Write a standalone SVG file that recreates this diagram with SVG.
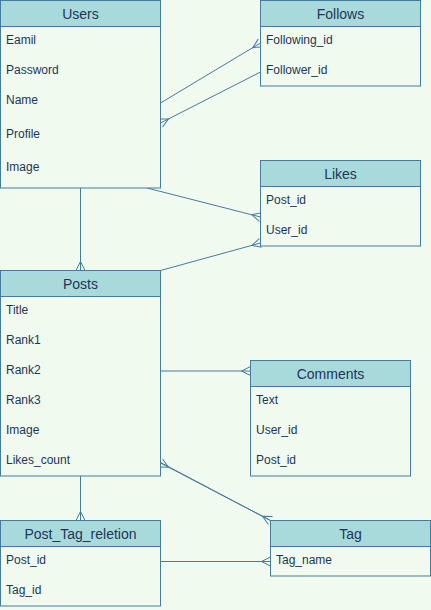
<svg xmlns="http://www.w3.org/2000/svg" width="431" height="610" viewBox="0 0 431 610">
<defs>
<style>
.box{fill:#F1FAEE;stroke:#457B9D;stroke-width:1}
.hdr{fill:#A8DADC;stroke:#457B9D;stroke-width:1}
.t{font-family:"Liberation Sans",Helvetica,Arial,sans-serif;fill:#1D3557}
.f{font-size:12px}
.h{font-size:14px;text-anchor:middle}
.c{fill:none;stroke:#457B9D;stroke-width:1}
</style>
<marker id="many" markerUnits="userSpaceOnUse" viewBox="-11 -6 12 12" refX="0" refY="0" markerWidth="12" markerHeight="12" orient="auto" overflow="visible">
<path d="M0,-4.5 L-9,0 L0,4.5" fill="none" stroke="#457B9D" stroke-width="1"/>
</marker>
</defs>
<rect width="431" height="610" fill="#F1FAEE"/>
<g id="connectors">
<path class="c" d="M160.5,103 L260.5,43" marker-end="url(#many)"/>
<path class="c" d="M260.5,72 L160.5,123" marker-end="url(#many)"/>
<path class="c" d="M147,188 L260.5,217" marker-end="url(#many)"/>
<path class="c" d="M160.5,270.5 L260.5,243" marker-end="url(#many)"/>
<path class="c" d="M80.5,188 L80.5,270.5" marker-end="url(#many)"/>
<path class="c" d="M160.5,371 L250.5,371" marker-end="url(#many)"/>
<path class="c" d="M160.5,462.5 L270.5,520.5" marker-end="url(#many)"/>
<path class="c" d="M270.5,520.5 L160.5,463" marker-end="url(#many)"/>
<path class="c" d="M80.5,476 L80.5,520.5" marker-end="url(#many)"/>
<path class="c" d="M160.5,561.5 L270.5,561.5" marker-end="url(#many)"/>
</g>
<g id="users">
<rect class="box" x="0.5" y="0.5" width="160" height="187.5"/>
<rect class="hdr" x="0.5" y="0.5" width="160" height="26"/>
<text class="t h" x="80.5" y="19">Users</text>
<text class="t f" x="6" y="44">Eamil</text>
<text class="t f" x="6" y="74">Password</text>
<text class="t f" x="6" y="104">Name</text>
<text class="t f" x="6" y="137.5">Profile</text>
<text class="t f" x="6" y="171">Image</text>
</g>
<g id="follows">
<rect class="box" x="260.5" y="0.5" width="160" height="85.5"/>
<rect class="hdr" x="260.5" y="0.5" width="160" height="26"/>
<text class="t h" x="340.5" y="19">Follows</text>
<text class="t f" x="266" y="44">Following_id</text>
<text class="t f" x="266" y="74">Follower_id</text>
</g>
<g id="likes">
<rect class="box" x="260.5" y="160.5" width="160" height="85.5"/>
<rect class="hdr" x="260.5" y="160.5" width="160" height="26"/>
<text class="t h" x="340.5" y="179">Likes</text>
<text class="t f" x="266" y="204">Post_id</text>
<text class="t f" x="266" y="234">User_id</text>
</g>
<g id="posts">
<rect class="box" x="0.5" y="270.5" width="160" height="205.5"/>
<rect class="hdr" x="0.5" y="270.5" width="160" height="26"/>
<text class="t h" x="80.5" y="289">Posts</text>
<text class="t f" x="6" y="314">Title</text>
<text class="t f" x="6" y="344">Rank1</text>
<text class="t f" x="6" y="374">Rank2</text>
<text class="t f" x="6" y="404">Rank3</text>
<text class="t f" x="6" y="434">Image</text>
<text class="t f" x="6" y="464">Likes_count</text>
</g>
<g id="comments">
<rect class="box" x="250.5" y="360.5" width="160" height="115.5"/>
<rect class="hdr" x="250.5" y="360.5" width="160" height="26"/>
<text class="t h" x="330.5" y="379">Comments</text>
<text class="t f" x="256" y="404">Text</text>
<text class="t f" x="256" y="434">User_id</text>
<text class="t f" x="256" y="464">Post_id</text>
</g>
<g id="post_tag_releation">
<rect class="box" x="0.5" y="520.5" width="160" height="85.5"/>
<rect class="hdr" x="0.5" y="520.5" width="160" height="26"/>
<text class="t h" x="80.5" y="539">Post_Tag_reletion</text>
<text class="t f" x="6" y="564">Post_id</text>
<text class="t f" x="6" y="594">Tag_id</text>
</g>
<g id="tag">
<rect class="box" x="270.5" y="520.5" width="160" height="55.5"/>
<rect class="hdr" x="270.5" y="520.5" width="160" height="26"/>
<text class="t h" x="350.5" y="539">Tag</text>
<text class="t f" x="276" y="564">Tag_name</text>
</g>
</svg>
